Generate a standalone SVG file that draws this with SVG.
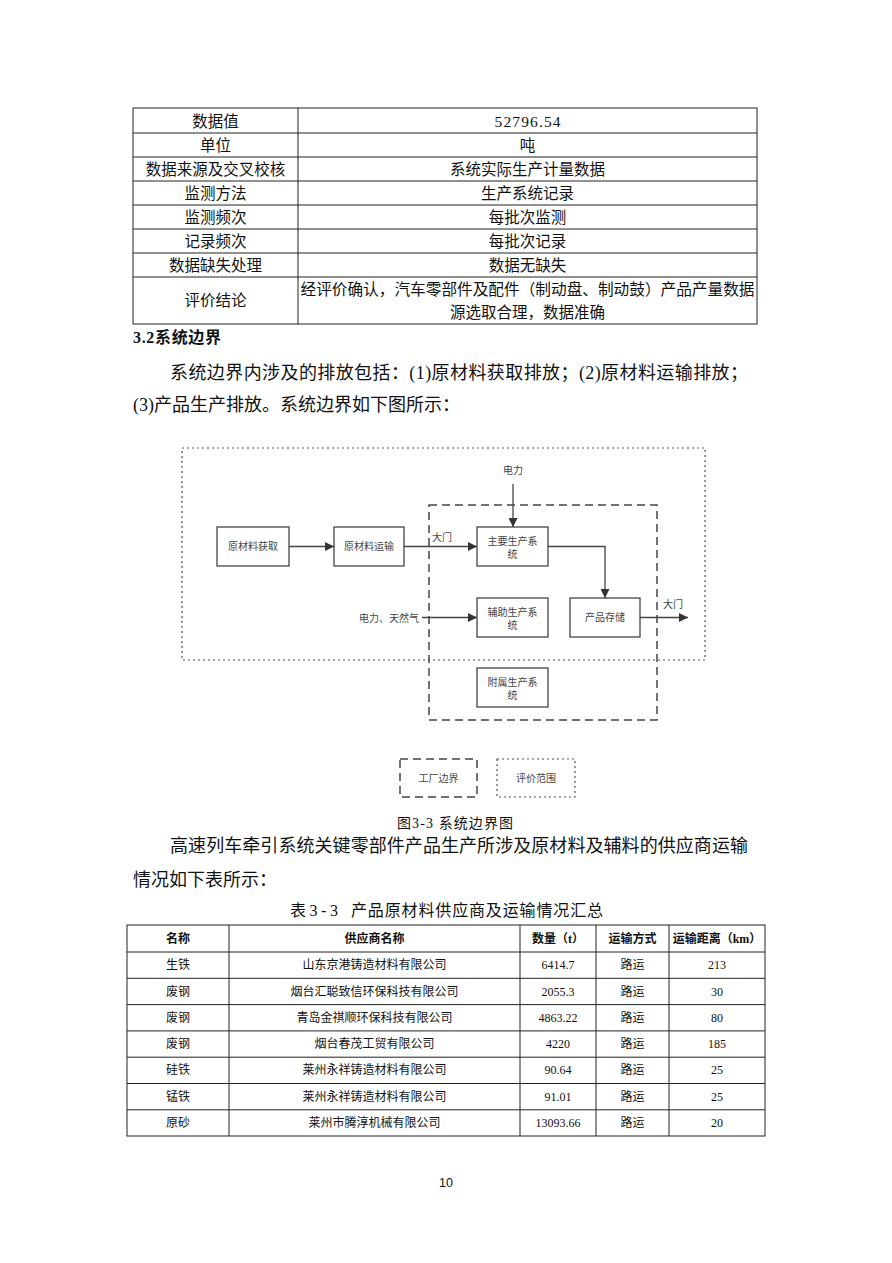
<svg xmlns="http://www.w3.org/2000/svg" width="892" height="1263" viewBox="0 0 892 1263">
<defs>
<style>
.t{font-family:"Liberation Serif","Noto Sans CJK SC",serif;fill:#111}
.c{text-anchor:middle;dominant-baseline:central}
.tb{stroke:#222;stroke-width:1;fill:none}
.d{font-family:"Liberation Sans","Noto Sans CJK SC",sans-serif;font-size:10px;fill:#444}
.box{fill:#fff;stroke:#444;stroke-width:1.3}
.ln{fill:none;stroke:#444;stroke-width:1.3}
.hd{font-weight:bold}
</style>
<marker id="ah" viewBox="0 0 10 10" refX="10" refY="5" markerWidth="9" markerHeight="9" markerUnits="userSpaceOnUse" orient="auto">
<path d="M0,0 L10,5 L0,10 Z" fill="#333"/>
</marker>
</defs>
<rect width="892" height="1263" fill="#fff"/>

<g id="table1">
<rect class="tb" x="133" y="108" width="624" height="216"/>
<path class="tb" d="M298,108V324 M133,133H757 M133,157H757 M133,181H757 M133,205H757 M133,229H757 M133,253H757 M133,277H757"/>
<g class="t c" font-size="15.5">
<text x="215.5" y="121">数据值</text><text x="527.5" y="121" textLength="66" lengthAdjust="spacing">52796.54</text>
<text x="215.5" y="145">单位</text><text x="527.5" y="145">吨</text>
<text x="215.5" y="169">数据来源及交叉校核</text><text x="527.5" y="169">系统实际生产计量数据</text>
<text x="215.5" y="193">监测方法</text><text x="527.5" y="193">生产系统记录</text>
<text x="215.5" y="217">监测频次</text><text x="527.5" y="217">每批次监测</text>
<text x="215.5" y="241">记录频次</text><text x="527.5" y="241">每批次记录</text>
<text x="215.5" y="265">数据缺失处理</text><text x="527.5" y="265">数据无缺失</text>
<text x="215.5" y="300">评价结论</text>
<text x="527.5" y="289" textLength="454" lengthAdjust="spacingAndGlyphs">经评价确认，汽车零部件及配件（制动盘、制动鼓）产品产量数据</text>
<text x="527.5" y="312">源选取合理，数据准确</text>
</g>
</g>

<g id="section">
<text class="t hd" x="133" y="343" font-size="16" textLength="88" lengthAdjust="spacing">3.2系统边界</text>
<text class="t" x="170" y="379" font-size="18" textLength="578" lengthAdjust="spacing">系统边界内涉及的排放包括：(1)原材料获取排放；(2)原材料运输排放；</text>
<text class="t" x="133" y="411" font-size="18">(3)产品生产排放。系统边界如下图所示：</text>
</g>

<g id="diagram">
<g id="scope-boundary"><rect x="182" y="448" width="523" height="212" fill="none" stroke="#555" stroke-width="1.2" stroke-dasharray="2,3"/></g>
<g id="factory-boundary"><rect x="429" y="505" width="228" height="215" fill="none" stroke="#444" stroke-width="1.5" stroke-dasharray="8,5"/></g>

<g id="connectors">
<path class="ln" d="M289,546.5H334" marker-end="url(#ah)"/>
<path class="ln" d="M404,546.5H477" marker-end="url(#ah)"/>
<path class="ln" d="M513,484V527" marker-end="url(#ah)"/>
<path class="ln" d="M548,546.5H605V598" marker-end="url(#ah)"/>
<path class="ln" d="M422,617.5H477" marker-end="url(#ah)"/>
<path class="ln" d="M640,617.5H688" marker-end="url(#ah)"/>
<text class="d" x="432" y="541">大门</text>
<text class="d" x="663" y="608">大门</text>
<text class="d" x="513" y="474" text-anchor="middle">电力</text>
<text class="d" x="419" y="622" text-anchor="end">电力、天然气</text>
</g>

<g id="n-yclhq"><rect class="box" x="217" y="527" width="72" height="39"/><text class="d" x="253" y="550" text-anchor="middle">原材料获取</text></g>
<g id="n-ysys"><rect class="box" x="334" y="527" width="70" height="39"/><text class="d" x="369" y="550" text-anchor="middle">原材料运输</text></g>
<g id="n-zysc"><rect class="box" x="477" y="527" width="71" height="39"/><text class="d" x="512.5" y="545" text-anchor="middle">主要生产系</text><text class="d" x="512.5" y="558" text-anchor="middle">统</text></g>
<g id="n-fzsc"><rect class="box" x="477" y="598" width="71" height="39"/><text class="d" x="512.5" y="616" text-anchor="middle">辅助生产系</text><text class="d" x="512.5" y="629" text-anchor="middle">统</text></g>
<g id="n-cpcc"><rect class="box" x="570" y="598" width="70" height="39"/><text class="d" x="605" y="621" text-anchor="middle">产品存储</text></g>
<g id="n-fssc"><rect class="box" x="477" y="668" width="71" height="39"/><text class="d" x="512.5" y="686" text-anchor="middle">附属生产系</text><text class="d" x="512.5" y="699" text-anchor="middle">统</text></g>

<g id="legend-factory"><rect x="400" y="759" width="77" height="38" fill="none" stroke="#444" stroke-width="1.5" stroke-dasharray="8,5"/><text class="d" x="438.5" y="782" text-anchor="middle">工厂边界</text></g>
<g id="legend-scope"><rect x="497" y="759" width="78" height="38" fill="none" stroke="#555" stroke-width="1.2" stroke-dasharray="2,3"/><text class="d" x="536" y="782" text-anchor="middle">评价范围</text></g>
</g>

<g id="caption">
<text class="t" x="397" y="828" font-size="14" textLength="116" lengthAdjust="spacing">图3-3 系统边界图</text>
<text class="t" x="170" y="852" font-size="18" textLength="578" lengthAdjust="spacing">高速列车牵引系统关键零部件产品生产所涉及原材料及辅料的供应商运输</text>
<text class="t" x="133" y="886" font-size="18">情况如下表所示：</text>
<text class="t" x="290" y="916" font-size="16" textLength="48" lengthAdjust="spacing">表3-3</text>
<text class="t" x="351" y="916" font-size="16" textLength="252" lengthAdjust="spacing">产品原材料供应商及运输情况汇总</text>
</g>

<g id="table2">
<rect class="tb" x="127" y="925" width="638" height="211"/>
<path class="tb" d="M229,925V1136 M520,925V1136 M596,925V1136 M669,925V1136 M127,952H765 M127,978.3H765 M127,1004.6H765 M127,1030.9H765 M127,1057.2H765 M127,1083.5H765 M127,1109.8H765"/>
<g class="t c hd" font-size="12">
<text x="178" y="938.5">名称</text><text x="374.5" y="938.5">供应商名称</text><text x="558" y="938.5">数量（t）</text><text x="632.5" y="938.5">运输方式</text><text x="717" y="938.5">运输距离（km）</text>
</g>
<g class="t c" font-size="12">
<text x="178" y="965.2">生铁</text><text x="374.5" y="965.2">山东京港铸造材料有限公司</text><text x="558" y="965.2">6414.7</text><text x="632.5" y="965.2">路运</text><text x="717" y="965.2">213</text>
<text x="178" y="991.5">废钢</text><text x="374.5" y="991.5">烟台汇聪致信环保科技有限公司</text><text x="558" y="991.5">2055.3</text><text x="632.5" y="991.5">路运</text><text x="717" y="991.5">30</text>
<text x="178" y="1017.8">废钢</text><text x="374.5" y="1017.8">青岛金祺顺环保科技有限公司</text><text x="558" y="1017.8">4863.22</text><text x="632.5" y="1017.8">路运</text><text x="717" y="1017.8">80</text>
<text x="178" y="1044">废钢</text><text x="374.5" y="1044">烟台春茂工贸有限公司</text><text x="558" y="1044">4220</text><text x="632.5" y="1044">路运</text><text x="717" y="1044">185</text>
<text x="178" y="1070.4">硅铁</text><text x="374.5" y="1070.4">莱州永祥铸造材料有限公司</text><text x="558" y="1070.4">90.64</text><text x="632.5" y="1070.4">路运</text><text x="717" y="1070.4">25</text>
<text x="178" y="1096.7">锰铁</text><text x="374.5" y="1096.7">莱州永祥铸造材料有限公司</text><text x="558" y="1096.7">91.01</text><text x="632.5" y="1096.7">路运</text><text x="717" y="1096.7">25</text>
<text x="178" y="1123">原砂</text><text x="374.5" y="1123">莱州市腾淳机械有限公司</text><text x="558" y="1123">13093.66</text><text x="632.5" y="1123">路运</text><text x="717" y="1123">20</text>
</g>
</g>

<g id="page-number"><text x="446" y="1187" font-family="'Liberation Sans',sans-serif" font-size="12.5" text-anchor="middle" fill="#111">10</text></g>
</svg>
